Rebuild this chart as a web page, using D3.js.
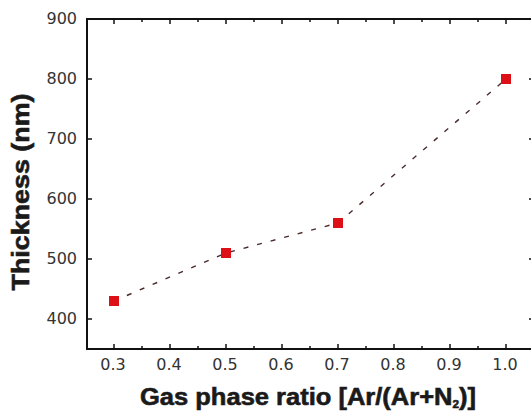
<!doctype html>
<html lang="en">
<head>
  <meta charset="utf-8">
  <title>Thickness vs gas phase ratio</title>
  <script src="https://d3js.org/d3.v7.min.js"></script>
  <style>
    body { margin: 0; background: #fff; }
    .tick-label { font: 16px "DejaVu Sans", Arial, sans-serif; fill: #333; }
    .axis-title { font: bold 24px "Liberation Sans", Arial, sans-serif; fill: #1a1a1a; stroke: #1a1a1a; stroke-width: 0.6px; }
  </style>
</head>
<body>
  <svg width="531" height="413"></svg>
  <script>
    // data
    var ratios = [0.3, 0.5, 0.7, 1.0];
    var thickness = [430, 510, 560, 800];
    var xTicks = [0.3, 0.4, 0.5, 0.6, 0.7, 0.8, 0.9, 1.0];
    var xMinor = [0.35, 0.45, 0.55, 0.65, 0.75, 0.85, 0.95];
    var yTicks = [400, 500, 600, 700, 800, 900];

    var svg = d3.select("svg"),
      plotL = 87, plotR = 534, plotT = 19, plotB = 349;

    var x = d3.scaleLinear().domain([0.25, 1.05]).range([plotL - 1, plotR]);
    var y = d3.scaleLinear().domain([350, 900]).range([plotB, plotT]);

    svg.append("rect").attr("width", 531).attr("height", 413).attr("fill", "#fff");

    var frame = svg.append("g");

    // major ticks, inward on all four sides
    xTicks.forEach(function (t) {
      frame.append("line").attr("x1", x(t)).attr("x2", x(t)).attr("y1", plotB).attr("y2", plotB - 5);
      frame.append("line").attr("x1", x(t)).attr("x2", x(t)).attr("y1", plotT).attr("y2", plotT + 5);
    });
    xMinor.forEach(function (t) {
      frame.append("line").attr("x1", x(t)).attr("x2", x(t)).attr("y1", plotB).attr("y2", plotB - 3);
      frame.append("line").attr("x1", x(t)).attr("x2", x(t)).attr("y1", plotT).attr("y2", plotT + 3);
    });
    yTicks.forEach(function (t) {
      frame.append("line").attr("x1", plotL).attr("x2", plotL + 5).attr("y1", y(t)).attr("y2", y(t));
      frame.append("line").attr("x1", plotR).attr("x2", plotR - 5).attr("y1", y(t)).attr("y2", y(t));
    });
    frame.selectAll("line").attr("stroke", "#111").attr("stroke-width", 1.5);

    frame.append("rect")
      .attr("x", plotL).attr("y", plotT)
      .attr("width", plotR - plotL).attr("height", plotB - plotT)
      .attr("fill", "none").attr("stroke", "#111").attr("stroke-width", 2);

    // tick labels
    svg.selectAll(".xl").data(xTicks).enter().append("text")
      .attr("class", "tick-label")
      .attr("x", function (d) { return x(d) - 1; })
      .attr("y", 370)
      .attr("text-anchor", "middle")
      .text(function (d) { return d3.format(".1f")(d); });

    svg.selectAll(".yl").data(yTicks).enter().append("text")
      .attr("class", "tick-label")
      .attr("x", 77)
      .attr("y", function (d) { return y(d) + 5; })
      .attr("text-anchor", "end")
      .text(function (d) { return d; });

    // dashed line and square markers
    var line = d3.line()
      .x(function (d, i) { return x(ratios[i]); })
      .y(function (d) { return y(d); });

    svg.append("path")
      .attr("d", line(thickness))
      .attr("fill", "none")
      .attr("stroke", "#4a2a2a")
      .attr("stroke-width", 1.4)
      .attr("stroke-dasharray", "5,9");

    svg.selectAll(".pt").data(thickness).enter().append("rect")
      .attr("x", function (d, i) { return x(ratios[i]) - 5; })
      .attr("y", function (d) { return y(d) - 5; })
      .attr("width", 10).attr("height", 10)
      .attr("fill", "#dd1018");

    // axis titles
    svg.append("text")
      .attr("class", "axis-title")
      .attr("x", 308).attr("y", 405)
      .attr("text-anchor", "middle")
      .attr("textLength", 336).attr("lengthAdjust", "spacingAndGlyphs")
      .text("Gas phase ratio [Ar/(Ar+N")
      .append("tspan").attr("font-size", 11).attr("dy", 3).text("2")
      .select(function () { return this.parentNode; })
      .append("tspan").attr("dy", -3).text(")]");

    svg.append("text")
      .attr("class", "axis-title")
      .attr("transform", "translate(29,192) rotate(-90)")
      .attr("text-anchor", "middle")
      .attr("textLength", 197).attr("lengthAdjust", "spacingAndGlyphs")
      .text("Thickness (nm)");
  </script>
</body>
</html>
